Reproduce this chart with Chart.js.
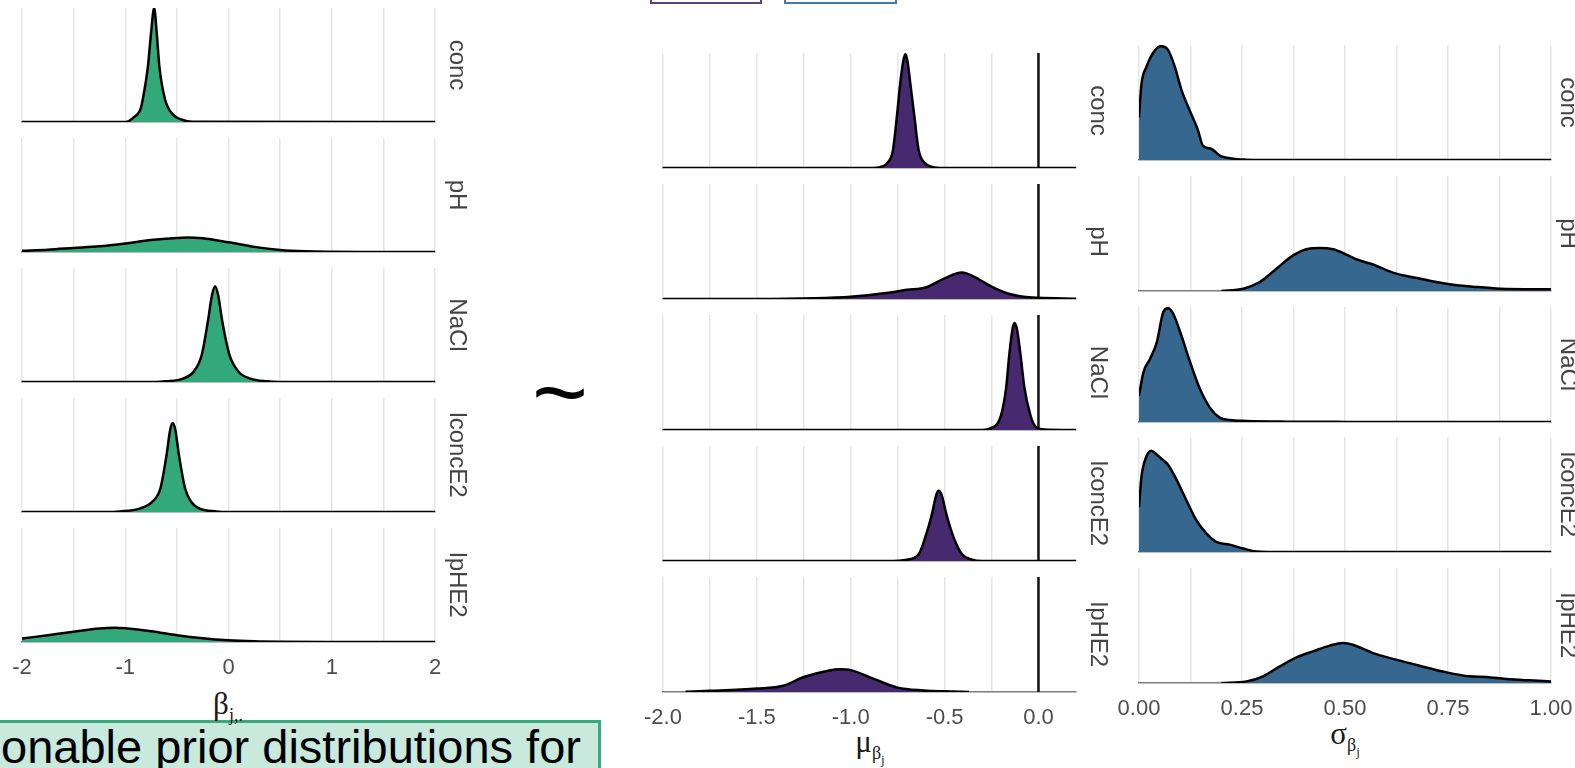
<!DOCTYPE html>
<html>
<head>
<meta charset="utf-8">
<script src="https://cdn.jsdelivr.net/npm/chart.js"></script>
<style>
html, body { margin: 0; padding: 0; background: #fff; }
body { position: relative; width: 1575px; height: 768px; overflow: hidden; font-family: 'Liberation Sans', Arial, sans-serif; }
canvas { position: absolute; }
.axt { position: absolute; transform: translateX(-50%); font-family: 'Liberation Serif', serif; font-size: 31px; color: #1a1a1a; white-space: nowrap; line-height: 1; }
.axt sub { font-size: 18px; }
.axt sub sub { font-size: 13px; }
.tag { position: absolute; top: -20px; height: 20px; border: 2px solid; background: #fff; }
#note { position: absolute; left: -10px; top: 720px; width: 605px; height: 60px; background: #c8e9dc; border: 3px solid #37aa7f; }
#noteText { position: absolute; left: 1px; top: 723px; font-size: 47px; line-height: 1; color: #000; white-space: nowrap; }
#tilde { position: absolute; left: 532px; top: 344px; font-size: 96px; line-height: 1; color: #000; }
</style>
</head>
<body>
<div class="tag" style="left:650px;width:108px;border-color:#5a3f86"></div>
<div class="tag" style="left:784px;width:109px;border-color:#4a78a6"></div>
<div id="tilde">~</div>
<div id="note"></div>
<div id="noteText">onable prior distributions for</div>
<div class="axt" style="left:228px;top:688px">β<sub>j,.</sub></div>
<div class="axt" style="left:870px;top:726px">μ<sub>β<sub>j</sub></sub></div>
<div class="axt" style="left:1345px;top:718px">σ<sub>β<sub>j</sub></sub></div>
<script>
const facets = ['conc', 'pH', 'NaCl', 'lconcE2', 'lpHE2'];

// [x, relative ridge height]
const beta_conc = [[-2,0],[-1.0,0],[-0.96,0.01],[-0.92,0.04],[-0.88,0.07],[-0.85,0.12],[-0.83,0.2],[-0.78,0.49],[-0.75,0.78],[-0.72,1.0],[-0.695,0.78],[-0.67,0.49],[-0.615,0.2],[-0.54,0.067],[-0.45,0.02],[-0.35,0.003],[2,0]];
const beta_pH = [[-2,0.01],[-1.75,0.02],[-1.5,0.035],[-1.25,0.05],[-1.0,0.075],[-0.75,0.105],[-0.5,0.123],[-0.4,0.127],[-0.25,0.12],[0,0.085],[0.25,0.045],[0.5,0.018],[0.75,0.006],[1.0,0.002],[1.3,0],[2,0]];
const beta_NaCl = [[-2,0],[-0.7,0],[-0.61,0.006],[-0.44,0.03],[-0.34,0.088],[-0.26,0.235],[-0.2,0.53],[-0.16,0.76],[-0.13,0.84],[-0.1,0.76],[-0.06,0.53],[0.01,0.235],[0.1,0.088],[0.21,0.03],[0.37,0.006],[0.5,0],[2,0]];
const beta_lconcE2 = [[-2,0],[-1.2,0],[-1.05,0.005],[-0.86,0.03],[-0.74,0.088],[-0.66,0.206],[-0.6,0.5],[-0.565,0.72],[-0.54,0.78],[-0.515,0.72],[-0.48,0.5],[-0.42,0.206],[-0.36,0.088],[-0.28,0.03],[-0.12,0.005],[0,0],[2,0]];
const beta_lpHE2 = [[-2,0.03],[-1.75,0.06],[-1.5,0.09],[-1.25,0.118],[-1.1,0.125],[-1.0,0.12],[-0.75,0.095],[-0.5,0.06],[-0.25,0.033],[0,0.015],[0.25,0.006],[0.5,0.002],[1.0,0],[2,0]];

const mu_conc = [[-2,0],[-0.9,0],[-0.84,0.01],[-0.807,0.04],[-0.775,0.155],[-0.754,0.45],[-0.736,0.74],[-0.72,0.93],[-0.709,0.99],[-0.698,0.93],[-0.683,0.74],[-0.661,0.45],[-0.638,0.155],[-0.603,0.04],[-0.567,0.01],[-0.5,0],[0.2,0]];
const mu_pH = [[-2,0],[-1.5,0],[-1.2,0.006],[-1.0,0.02],[-0.8,0.055],[-0.7,0.08],[-0.6,0.1],[-0.5,0.18],[-0.407,0.23],[-0.347,0.196],[-0.25,0.108],[-0.167,0.05],[-0.08,0.02],[0,0.01],[0.2,0.003]];
const mu_NaCl = [[-2,0],[-0.32,0],[-0.256,0.015],[-0.199,0.13],[-0.172,0.37],[-0.155,0.66],[-0.138,0.88],[-0.128,0.93],[-0.115,0.88],[-0.096,0.66],[-0.075,0.37],[-0.043,0.13],[-0.016,0.03],[0.03,0.005],[0.2,0]];
const mu_lconcE2 = [[-2,0],[-0.8,0],[-0.7,0.012],[-0.638,0.058],[-0.603,0.205],[-0.567,0.41],[-0.545,0.57],[-0.532,0.61],[-0.515,0.57],[-0.491,0.41],[-0.452,0.205],[-0.407,0.058],[-0.354,0.012],[-0.3,0],[0.2,0]];
const mu_lpHE2 = [[-1.88,0.003],[-1.75,0.01],[-1.5,0.03],[-1.36,0.055],[-1.25,0.13],[-1.12,0.185],[-1.056,0.197],[-1.0,0.19],[-0.88,0.116],[-0.75,0.038],[-0.61,0.014],[-0.5,0.006],[-0.37,0.001]];

const sigma_conc = [[0,0.37],[0.006,0.66],[0.018,0.81],[0.034,0.93],[0.053,0.99],[0.07,0.96],[0.087,0.81],[0.103,0.61],[0.123,0.43],[0.143,0.26],[0.155,0.125],[0.176,0.096],[0.196,0.038],[0.228,0.012],[0.26,0.003],[0.3,0],[1,0]];
const sigma_pH = [[0.2,0],[0.253,0.02],[0.293,0.078],[0.334,0.195],[0.374,0.31],[0.406,0.363],[0.439,0.375],[0.471,0.363],[0.503,0.317],[0.527,0.276],[0.568,0.23],[0.616,0.16],[0.681,0.108],[0.754,0.058],[0.81,0.038],[0.877,0.02],[1.0,0.015]];
const sigma_NaCl = [[0,0.227],[0.0105,0.43],[0.027,0.55],[0.043,0.69],[0.059,0.956],[0.071,0.99],[0.083,0.94],[0.103,0.75],[0.124,0.52],[0.148,0.286],[0.172,0.125],[0.196,0.038],[0.22,0.017],[0.26,0.009],[0.36,0.003],[0.5,0.001],[1.0,0]];
const sigma_lconcE2 = [[0,0.39],[0.006,0.656],[0.018,0.83],[0.03,0.88],[0.042,0.85],[0.058,0.8],[0.07,0.76],[0.091,0.63],[0.115,0.45],[0.139,0.277],[0.164,0.16],[0.188,0.087],[0.22,0.064],[0.253,0.03],[0.285,0.005],[0.35,0],[1,0]];
const sigma_lpHE2 = [[0.2,0],[0.261,0.014],[0.301,0.058],[0.342,0.145],[0.382,0.223],[0.422,0.275],[0.463,0.325],[0.495,0.348],[0.519,0.333],[0.568,0.26],[0.624,0.203],[0.681,0.15],[0.746,0.093],[0.802,0.058],[0.843,0.052],[0.891,0.035],[0.947,0.023],[1.0,0.014]];

const muRefLine = 0;

const near = (v, s) => Math.abs(v / s - Math.round(v / s)) < 1e-6;

const panels = [
  { series: [beta_conc, beta_pH, beta_NaCl, beta_lconcE2, beta_lpHE2],
    left: 22, width: 413, tops: [8, 138, 268, 398, 528], h: 114,
    min: -2, max: 2, step: 0.5, fill: '#33a97b', stripX: 457,
    label: v => near(v, 1) ? String(Math.round(v)) : '' },
  { series: [mu_conc, mu_pH, mu_NaCl, mu_lconcE2, mu_lpHE2],
    left: 663, width: 413, tops: [53, 184, 315, 446, 577], h: 115,
    min: -2, max: 0.2, step: 0.25, fill: '#46296e', stripX: 1098, refLine: muRefLine,
    label: v => near(v, 0.5) ? (Math.abs(v) < 1e-9 ? '0.0' : v.toFixed(1)) : '' },
  { series: [sigma_conc, sigma_pH, sigma_NaCl, sigma_lconcE2, sigma_lpHE2],
    left: 1139, width: 412, tops: [45, 176, 307, 437, 568], h: 115,
    min: 0, max: 1, step: 0.125, fill: '#35678f', stripX: 1568,
    label: v => near(v, 0.25) ? v.toFixed(2) : '' }
];

const M = 30;        // room left of plot for edge tick labels
const stripW = 40;   // strip label column
const stripFont = 24;
const bottomH = 45;

panels.forEach(p => {
  facets.forEach((name, i) => {
    const last = i === facets.length - 1;
    const cv = document.createElement('canvas');
    const w = M + p.width + stripW;
    const h = p.h + (last ? bottomH : 2);
    cv.width = w; cv.height = h;
    cv.style.left = (p.left - M) + 'px';
    cv.style.top = p.tops[i] + 'px';
    document.body.appendChild(cv);

    const canvasRight = p.left + p.width + stripW;
    const padTop = canvasRight - p.stripX - stripFont * 1.2 / 2;

    const datasets = [{
      data: p.series[i].map(d => ({ x: d[0], y: d[1] })),
      borderColor: '#000',
      borderWidth: 2.5,
      backgroundColor: p.fill,
      fill: 'origin',
      pointRadius: 0,
      cubicInterpolationMode: 'monotone',
      clip: { left: 0, right: 0, top: 4, bottom: 0 }
    }];
    if (p.refLine !== undefined) {
      datasets.push({
        data: [{ x: p.refLine, y: 0 }, { x: p.refLine, y: 1 }],
        borderColor: '#111',
        borderWidth: 2.5,
        fill: false,
        pointRadius: 0,
        clip: { left: 0, right: 0, top: 0, bottom: 0 }
      });
    }

    new Chart(cv, {
      type: 'line',
      data: { datasets: datasets },
      options: {
        responsive: false,
        animation: false,
        events: [],
        layout: { padding: { left: M, right: 0, top: 0, bottom: 0 } },
        plugins: { legend: { display: false }, tooltip: { enabled: false } },
        scales: {
          x: {
            type: 'linear', position: 'bottom',
            min: p.min, max: p.max,
            grid: { color: '#e6e6e6', lineWidth: 1.5, drawTicks: false },
            border: { display: true, color: '#7d7d7d', width: 1.5 },
            ticks: {
              display: last, stepSize: p.step, includeBounds: false,
              autoSkip: false, minRotation: 0, maxRotation: 0, padding: 13,
              color: '#4d4d4d', font: { family: "'Liberation Sans', Arial, sans-serif", size: 22 },
              callback: v => p.label(v)
            },
            afterFit: s => { s.height = last ? bottomH : 2; s.paddingLeft = 0; s.paddingRight = 0; }
          },
          y: {
            position: 'right', min: 0, max: 1,
            grid: { display: false },
            border: { display: false },
            ticks: { display: false },
            title: {
              display: true, text: name, color: '#444',
              font: { family: "'Liberation Sans', Arial, sans-serif", size: stripFont },
              padding: { top: padTop, bottom: 0 }
            },
            afterFit: s => { s.width = stripW; s.paddingTop = 0; s.paddingBottom = 0; }
          }
        }
      }
    });
  });
});
</script>
</body>
</html>
